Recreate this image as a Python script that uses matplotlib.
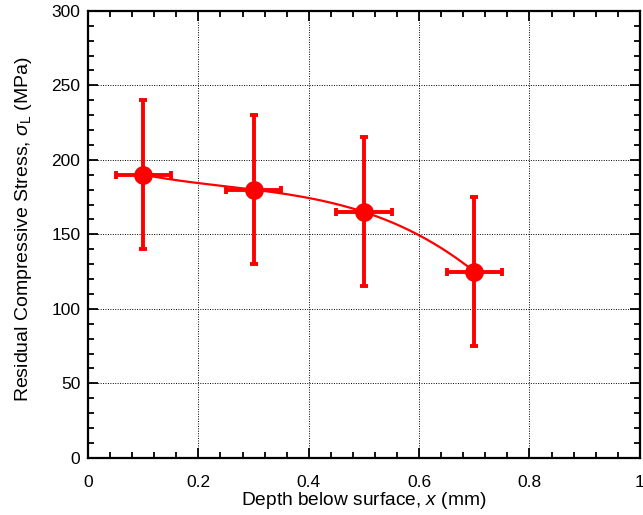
import matplotlib
matplotlib.use("Agg")
import matplotlib.pyplot as plt
import numpy as np
from matplotlib.ticker import MultipleLocator

# data
depth = [0.1, 0.3, 0.5, 0.7]
stress = [190, 180, 165, 125]
depth_err = [0.05, 0.05, 0.05, 0.05]
stress_err = [50, 50, 50, 50]
x_ticks = [0, 0.2, 0.4, 0.6, 0.8, 1.0]
x_ticklabels = ["0", "0.2", "0.4", "0.6", "0.8", "1"]

plt.rcParams["font.family"] = ["Liberation Sans", "DejaVu Sans"]
plt.rcParams["mathtext.fontset"] = "custom"
plt.rcParams["mathtext.it"] = "Liberation Sans:italic"
plt.rcParams["mathtext.rm"] = "Liberation Sans"

fig = plt.figure(figsize=(6.43, 5.15), dpi=100)
ax = fig.add_axes([0.137, 0.111, 0.858, 0.868])

# smooth trend line through the points
coef = np.polyfit(depth, stress, 3)
xs = np.linspace(depth[0], depth[-1], 200)
ax.plot(xs, np.polyval(coef, xs), color="red", lw=1.6, zorder=3)

ax.errorbar(depth, stress, xerr=depth_err, yerr=stress_err, fmt="o",
            color="red", ms=12.5, elinewidth=2.8, capsize=3, capthick=2.8,
            zorder=4)

ax.set_xlim(0, 1)
ax.set_ylim(0, 300)
ax.set_xticks(x_ticks)
ax.set_xticklabels(x_ticklabels)
ax.xaxis.set_minor_locator(MultipleLocator(0.04))
ax.yaxis.set_major_locator(MultipleLocator(50))
ax.yaxis.set_minor_locator(MultipleLocator(10))

ax.grid(True, which="major", color="black", linestyle=(0, (1, 1.5)), lw=0.7)
ax.tick_params(which="both", direction="in", top=True, right=True,
               labelsize=12.5, width=1.3)
ax.tick_params(axis="x", pad=12)
ax.tick_params(axis="y", pad=5.5)
ax.tick_params(which="major", length=7)
ax.tick_params(which="minor", length=4)
for s in ax.spines.values():
    s.set_linewidth(1.6)

ax.set_xlabel(r"Depth below surface, $x$ (mm)", fontsize=13.8)
ax.set_ylabel(r"Residual Compressive Stress, $\sigma_{\rm L}$ (MPa)", fontsize=14)
ax.xaxis.set_label_coords(0.5, -0.072)
ax.yaxis.set_label_coords(-0.098, 0.512)

fig.savefig("out.png", dpi=100)
